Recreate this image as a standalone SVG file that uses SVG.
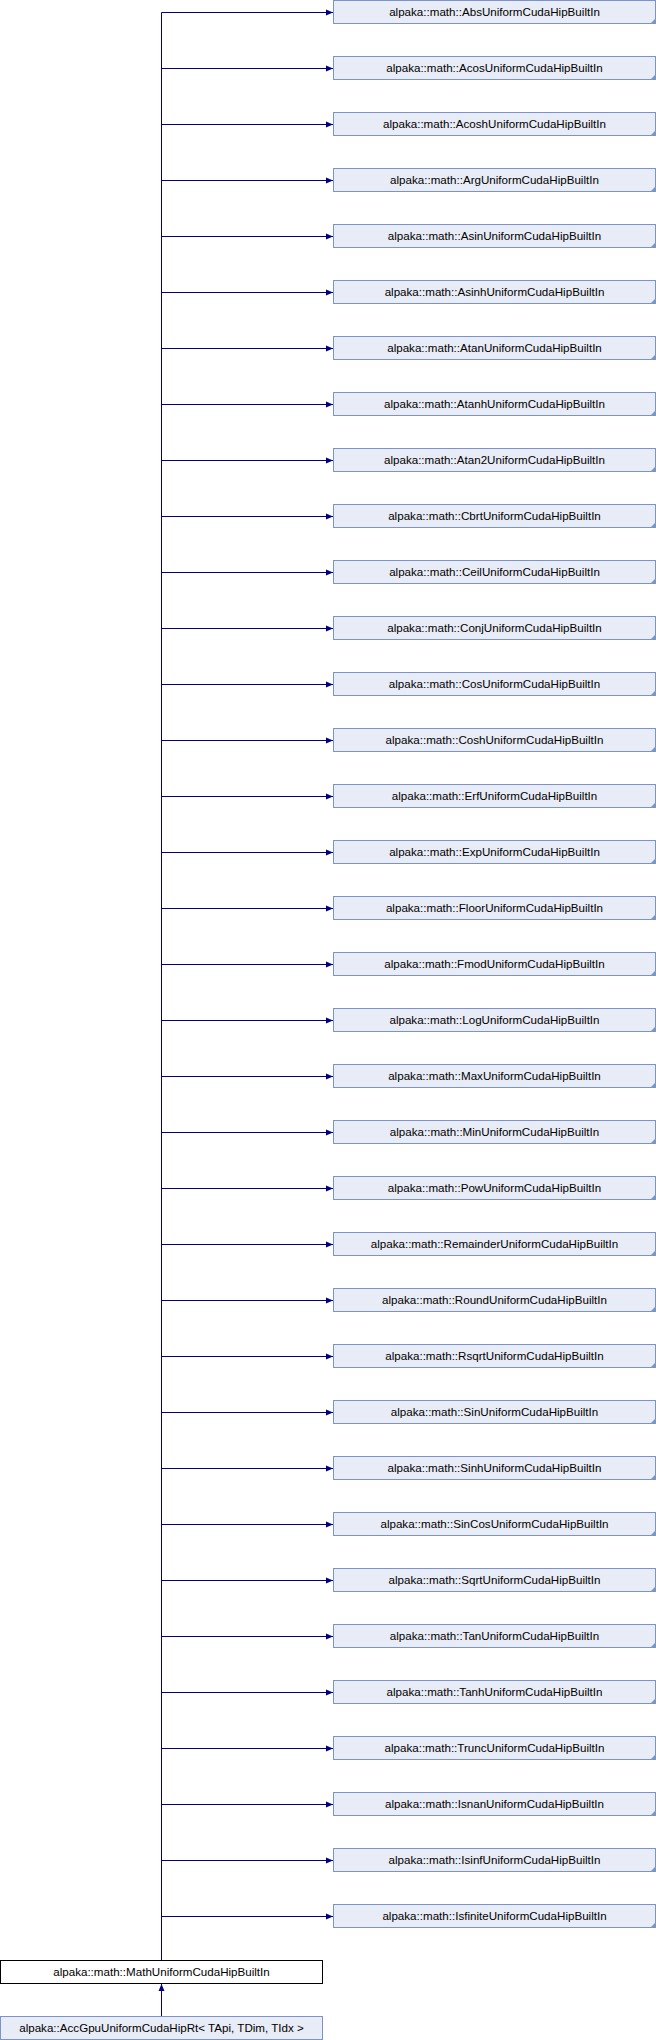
<svg xmlns="http://www.w3.org/2000/svg" width="656" height="2040" viewBox="0 0 656 2040">
<style>
.n rect{fill:#e8ecf6;stroke:#7b93c8;stroke-width:1}
.n path{fill:#7b93c8}
.r rect{fill:#ffffff;stroke:#000000;stroke-width:1}
text{font-family:"Liberation Sans",Arial,sans-serif;font-size:11.6px;text-anchor:middle;fill:#000}
.e{stroke:#000080;stroke-width:1;fill:none}
</style>
<defs>
<marker id="a" markerWidth="8" markerHeight="8" refX="7" refY="3.5" orient="auto" markerUnits="userSpaceOnUse">
<path d="M0,0.5 L7,3.5 L0,6.5 Z" fill="#000080"/>
</marker>
</defs>
<g id="edges">
<path class="e" d="M161.5,1960 V12.5"/>
<path class="e" marker-end="url(#a)" d="M161.5,12.5 H333"/>
<path class="e" marker-end="url(#a)" d="M161.5,68.5 H333"/>
<path class="e" marker-end="url(#a)" d="M161.5,124.5 H333"/>
<path class="e" marker-end="url(#a)" d="M161.5,180.5 H333"/>
<path class="e" marker-end="url(#a)" d="M161.5,236.5 H333"/>
<path class="e" marker-end="url(#a)" d="M161.5,292.5 H333"/>
<path class="e" marker-end="url(#a)" d="M161.5,348.5 H333"/>
<path class="e" marker-end="url(#a)" d="M161.5,404.5 H333"/>
<path class="e" marker-end="url(#a)" d="M161.5,460.5 H333"/>
<path class="e" marker-end="url(#a)" d="M161.5,516.5 H333"/>
<path class="e" marker-end="url(#a)" d="M161.5,572.5 H333"/>
<path class="e" marker-end="url(#a)" d="M161.5,628.5 H333"/>
<path class="e" marker-end="url(#a)" d="M161.5,684.5 H333"/>
<path class="e" marker-end="url(#a)" d="M161.5,740.5 H333"/>
<path class="e" marker-end="url(#a)" d="M161.5,796.5 H333"/>
<path class="e" marker-end="url(#a)" d="M161.5,852.5 H333"/>
<path class="e" marker-end="url(#a)" d="M161.5,908.5 H333"/>
<path class="e" marker-end="url(#a)" d="M161.5,964.5 H333"/>
<path class="e" marker-end="url(#a)" d="M161.5,1020.5 H333"/>
<path class="e" marker-end="url(#a)" d="M161.5,1076.5 H333"/>
<path class="e" marker-end="url(#a)" d="M161.5,1132.5 H333"/>
<path class="e" marker-end="url(#a)" d="M161.5,1188.5 H333"/>
<path class="e" marker-end="url(#a)" d="M161.5,1244.5 H333"/>
<path class="e" marker-end="url(#a)" d="M161.5,1300.5 H333"/>
<path class="e" marker-end="url(#a)" d="M161.5,1356.5 H333"/>
<path class="e" marker-end="url(#a)" d="M161.5,1412.5 H333"/>
<path class="e" marker-end="url(#a)" d="M161.5,1468.5 H333"/>
<path class="e" marker-end="url(#a)" d="M161.5,1524.5 H333"/>
<path class="e" marker-end="url(#a)" d="M161.5,1580.5 H333"/>
<path class="e" marker-end="url(#a)" d="M161.5,1636.5 H333"/>
<path class="e" marker-end="url(#a)" d="M161.5,1692.5 H333"/>
<path class="e" marker-end="url(#a)" d="M161.5,1748.5 H333"/>
<path class="e" marker-end="url(#a)" d="M161.5,1804.5 H333"/>
<path class="e" marker-end="url(#a)" d="M161.5,1860.5 H333"/>
<path class="e" marker-end="url(#a)" d="M161.5,1916.5 H333"/>
<path class="e" marker-end="url(#a)" d="M161.5,2016 V1984"/>
</g>
<g id="n0" class="n"><rect x="333.5" y="0.5" width="322" height="23"/><path d="M655.5,18.5 V23.5 H650.5 Z"/><text x="494.5" y="16">alpaka::math::AbsUniformCudaHipBuiltIn</text></g>
<g id="n1" class="n"><rect x="333.5" y="56.5" width="322" height="23"/><path d="M655.5,74.5 V79.5 H650.5 Z"/><text x="494.5" y="72">alpaka::math::AcosUniformCudaHipBuiltIn</text></g>
<g id="n2" class="n"><rect x="333.5" y="112.5" width="322" height="23"/><path d="M655.5,130.5 V135.5 H650.5 Z"/><text x="494.5" y="128">alpaka::math::AcoshUniformCudaHipBuiltIn</text></g>
<g id="n3" class="n"><rect x="333.5" y="168.5" width="322" height="23"/><path d="M655.5,186.5 V191.5 H650.5 Z"/><text x="494.5" y="184">alpaka::math::ArgUniformCudaHipBuiltIn</text></g>
<g id="n4" class="n"><rect x="333.5" y="224.5" width="322" height="23"/><path d="M655.5,242.5 V247.5 H650.5 Z"/><text x="494.5" y="240">alpaka::math::AsinUniformCudaHipBuiltIn</text></g>
<g id="n5" class="n"><rect x="333.5" y="280.5" width="322" height="23"/><path d="M655.5,298.5 V303.5 H650.5 Z"/><text x="494.5" y="296">alpaka::math::AsinhUniformCudaHipBuiltIn</text></g>
<g id="n6" class="n"><rect x="333.5" y="336.5" width="322" height="23"/><path d="M655.5,354.5 V359.5 H650.5 Z"/><text x="494.5" y="352">alpaka::math::AtanUniformCudaHipBuiltIn</text></g>
<g id="n7" class="n"><rect x="333.5" y="392.5" width="322" height="23"/><path d="M655.5,410.5 V415.5 H650.5 Z"/><text x="494.5" y="408">alpaka::math::AtanhUniformCudaHipBuiltIn</text></g>
<g id="n8" class="n"><rect x="333.5" y="448.5" width="322" height="23"/><path d="M655.5,466.5 V471.5 H650.5 Z"/><text x="494.5" y="464">alpaka::math::Atan2UniformCudaHipBuiltIn</text></g>
<g id="n9" class="n"><rect x="333.5" y="504.5" width="322" height="23"/><path d="M655.5,522.5 V527.5 H650.5 Z"/><text x="494.5" y="520">alpaka::math::CbrtUniformCudaHipBuiltIn</text></g>
<g id="n10" class="n"><rect x="333.5" y="560.5" width="322" height="23"/><path d="M655.5,578.5 V583.5 H650.5 Z"/><text x="494.5" y="576">alpaka::math::CeilUniformCudaHipBuiltIn</text></g>
<g id="n11" class="n"><rect x="333.5" y="616.5" width="322" height="23"/><path d="M655.5,634.5 V639.5 H650.5 Z"/><text x="494.5" y="632">alpaka::math::ConjUniformCudaHipBuiltIn</text></g>
<g id="n12" class="n"><rect x="333.5" y="672.5" width="322" height="23"/><path d="M655.5,690.5 V695.5 H650.5 Z"/><text x="494.5" y="688">alpaka::math::CosUniformCudaHipBuiltIn</text></g>
<g id="n13" class="n"><rect x="333.5" y="728.5" width="322" height="23"/><path d="M655.5,746.5 V751.5 H650.5 Z"/><text x="494.5" y="744">alpaka::math::CoshUniformCudaHipBuiltIn</text></g>
<g id="n14" class="n"><rect x="333.5" y="784.5" width="322" height="23"/><path d="M655.5,802.5 V807.5 H650.5 Z"/><text x="494.5" y="800">alpaka::math::ErfUniformCudaHipBuiltIn</text></g>
<g id="n15" class="n"><rect x="333.5" y="840.5" width="322" height="23"/><path d="M655.5,858.5 V863.5 H650.5 Z"/><text x="494.5" y="856">alpaka::math::ExpUniformCudaHipBuiltIn</text></g>
<g id="n16" class="n"><rect x="333.5" y="896.5" width="322" height="23"/><path d="M655.5,914.5 V919.5 H650.5 Z"/><text x="494.5" y="912">alpaka::math::FloorUniformCudaHipBuiltIn</text></g>
<g id="n17" class="n"><rect x="333.5" y="952.5" width="322" height="23"/><path d="M655.5,970.5 V975.5 H650.5 Z"/><text x="494.5" y="968">alpaka::math::FmodUniformCudaHipBuiltIn</text></g>
<g id="n18" class="n"><rect x="333.5" y="1008.5" width="322" height="23"/><path d="M655.5,1026.5 V1031.5 H650.5 Z"/><text x="494.5" y="1024">alpaka::math::LogUniformCudaHipBuiltIn</text></g>
<g id="n19" class="n"><rect x="333.5" y="1064.5" width="322" height="23"/><path d="M655.5,1082.5 V1087.5 H650.5 Z"/><text x="494.5" y="1080">alpaka::math::MaxUniformCudaHipBuiltIn</text></g>
<g id="n20" class="n"><rect x="333.5" y="1120.5" width="322" height="23"/><path d="M655.5,1138.5 V1143.5 H650.5 Z"/><text x="494.5" y="1136">alpaka::math::MinUniformCudaHipBuiltIn</text></g>
<g id="n21" class="n"><rect x="333.5" y="1176.5" width="322" height="23"/><path d="M655.5,1194.5 V1199.5 H650.5 Z"/><text x="494.5" y="1192">alpaka::math::PowUniformCudaHipBuiltIn</text></g>
<g id="n22" class="n"><rect x="333.5" y="1232.5" width="322" height="23"/><path d="M655.5,1250.5 V1255.5 H650.5 Z"/><text x="494.5" y="1248">alpaka::math::RemainderUniformCudaHipBuiltIn</text></g>
<g id="n23" class="n"><rect x="333.5" y="1288.5" width="322" height="23"/><path d="M655.5,1306.5 V1311.5 H650.5 Z"/><text x="494.5" y="1304">alpaka::math::RoundUniformCudaHipBuiltIn</text></g>
<g id="n24" class="n"><rect x="333.5" y="1344.5" width="322" height="23"/><path d="M655.5,1362.5 V1367.5 H650.5 Z"/><text x="494.5" y="1360">alpaka::math::RsqrtUniformCudaHipBuiltIn</text></g>
<g id="n25" class="n"><rect x="333.5" y="1400.5" width="322" height="23"/><path d="M655.5,1418.5 V1423.5 H650.5 Z"/><text x="494.5" y="1416">alpaka::math::SinUniformCudaHipBuiltIn</text></g>
<g id="n26" class="n"><rect x="333.5" y="1456.5" width="322" height="23"/><path d="M655.5,1474.5 V1479.5 H650.5 Z"/><text x="494.5" y="1472">alpaka::math::SinhUniformCudaHipBuiltIn</text></g>
<g id="n27" class="n"><rect x="333.5" y="1512.5" width="322" height="23"/><path d="M655.5,1530.5 V1535.5 H650.5 Z"/><text x="494.5" y="1528">alpaka::math::SinCosUniformCudaHipBuiltIn</text></g>
<g id="n28" class="n"><rect x="333.5" y="1568.5" width="322" height="23"/><path d="M655.5,1586.5 V1591.5 H650.5 Z"/><text x="494.5" y="1584">alpaka::math::SqrtUniformCudaHipBuiltIn</text></g>
<g id="n29" class="n"><rect x="333.5" y="1624.5" width="322" height="23"/><path d="M655.5,1642.5 V1647.5 H650.5 Z"/><text x="494.5" y="1640">alpaka::math::TanUniformCudaHipBuiltIn</text></g>
<g id="n30" class="n"><rect x="333.5" y="1680.5" width="322" height="23"/><path d="M655.5,1698.5 V1703.5 H650.5 Z"/><text x="494.5" y="1696">alpaka::math::TanhUniformCudaHipBuiltIn</text></g>
<g id="n31" class="n"><rect x="333.5" y="1736.5" width="322" height="23"/><path d="M655.5,1754.5 V1759.5 H650.5 Z"/><text x="494.5" y="1752">alpaka::math::TruncUniformCudaHipBuiltIn</text></g>
<g id="n32" class="n"><rect x="333.5" y="1792.5" width="322" height="23"/><path d="M655.5,1810.5 V1815.5 H650.5 Z"/><text x="494.5" y="1808">alpaka::math::IsnanUniformCudaHipBuiltIn</text></g>
<g id="n33" class="n"><rect x="333.5" y="1848.5" width="322" height="23"/><path d="M655.5,1866.5 V1871.5 H650.5 Z"/><text x="494.5" y="1864">alpaka::math::IsinfUniformCudaHipBuiltIn</text></g>
<g id="n34" class="n"><rect x="333.5" y="1904.5" width="322" height="23"/><path d="M655.5,1922.5 V1927.5 H650.5 Z"/><text x="494.5" y="1920">alpaka::math::IsfiniteUniformCudaHipBuiltIn</text></g>
<g id="base" class="r"><rect x="0.5" y="1960.5" width="322" height="23"/><text x="161.5" y="1976">alpaka::math::MathUniformCudaHipBuiltIn</text></g>
<g id="acc" class="n"><rect x="0.5" y="2016.5" width="322" height="23"/><text x="161.5" y="2032">alpaka::AccGpuUniformCudaHipRt&lt; TApi, TDim, TIdx &gt;</text></g>
</svg>
